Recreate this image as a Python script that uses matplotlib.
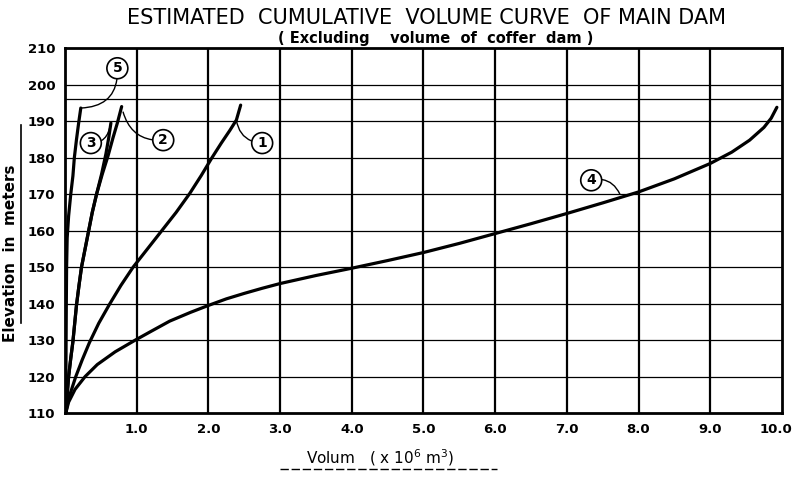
from matplotlib import pyplot as plt
from matplotlib.lines import Line2D
import numpy as np

# curve values: volume (x 10^6 m3) vs elevation (m)
vol_1 = [0.01, 0.05, 0.15, 0.24, 0.34, 0.47, 0.62, 0.78, 0.95, 1.15, 1.35, 1.55,
         1.74, 1.90, 2.05, 2.18, 2.30, 2.39, 2.45]
elev_1 = [110, 114, 120, 124.6, 129.3, 134.6, 139.8, 145, 150, 155, 160, 165,
          170.2, 175.1, 180, 184, 187.5, 190.3, 194.4]

vol_2 = [0.01, 0.03, 0.05, 0.08, 0.11, 0.135, 0.16, 0.195, 0.23, 0.28, 0.33, 0.38,
         0.44, 0.52, 0.60, 0.67, 0.73, 0.79]
elev_2 = [110, 115, 120, 125, 129.6, 134.6, 139.6, 145, 150, 155, 160, 165,
          170, 175.5, 180.5, 185.5, 189.5, 194]

vol_3 = [0.01, 0.03, 0.05, 0.08, 0.11, 0.135, 0.16, 0.195, 0.23, 0.28, 0.33, 0.38,
         0.44, 0.51, 0.57, 0.61, 0.64]
elev_3 = [110, 115, 120, 125, 129.6, 134.6, 139.6, 145, 150, 155, 160, 165,
          170, 175.5, 181, 185.5, 189.5]

vol_4 = [0.01, 0.05, 0.14, 0.28, 0.45, 0.70, 0.98, 1.20, 1.46, 1.75, 2.0, 2.25, 2.5,
         2.75, 3.0, 3.5, 4.0, 4.5, 5.0, 5.5, 6.0, 6.5, 7.0, 7.5, 8.0, 8.5, 9.0,
         9.3, 9.55, 9.75, 9.85, 9.93]
elev_4 = [110, 113, 116.5, 120, 123.3, 126.8, 130, 132.4, 135.2, 137.6, 139.5, 141.3, 142.8,
          144.2, 145.5, 147.7, 149.7, 151.8, 154.0, 156.5, 159.2, 161.9, 164.7, 167.6, 170.6,
          174.2, 178.4, 181.5, 184.8, 188.3, 190.8, 193.8]

vol_5 = [0.01, 0.012, 0.015, 0.018, 0.022, 0.03, 0.05, 0.08, 0.11, 0.13, 0.16, 0.19, 0.22]
elev_5 = [110, 120, 130, 140, 150, 158, 164, 170, 175, 180, 185, 189.5, 193.6]

x_ticks = [1, 2, 3, 4, 5, 6, 7, 8, 9, 10]
x_labels = ["1.0", "2.0", "3.0", "4.0", "5.0", "6.0", "7.0", "8.0", "9.0", "10.0"]
y_ticks = [110, 120, 130, 140, 150, 160, 170, 180, 190, 200, 210]
crest = 196

# (label, text position, point on curve, leader bend)
tags = [("5", (0.73, 204.5), (0.22, 193.6), -0.5),
        ("3", (0.36, 184.0), (0.62, 188.0), 0.4),
        ("2", (1.37, 184.8), (0.81, 192.5), -0.4),
        ("1", (2.75, 184.0), (2.39, 190.3), -0.4),
        ("4", (7.34, 173.8), (7.74, 170.0), -0.4)]

fig = plt.figure(figsize=(7.93, 4.82), dpi=100)
ax = fig.add_axes([0.082, 0.143, 0.904, 0.757])

for x in x_ticks[:-1]:
    ax.axvline(x, color="black", lw=1.6, zorder=1)
for y in y_ticks[1:-1]:
    ax.axhline(y, color="black", lw=0.9, zorder=1)
ax.axhline(crest, color="black", lw=0.9, zorder=1)

for v, e in [(vol_4, elev_4), (vol_1, elev_1), (vol_2, elev_2), (vol_3, elev_3), (vol_5, elev_5)]:
    ax.plot(v, e, color="black", lw=2.3, solid_capstyle="round", solid_joinstyle="round", zorder=3)

for name, txt, pt, rad in tags:
    ax.annotate(name, xy=pt, xytext=txt, fontsize=10, fontweight="bold",
                ha="center", va="center", zorder=4,
                bbox=dict(boxstyle="circle,pad=0.25", fc="white", ec="black", lw=1.2),
                arrowprops=dict(arrowstyle="-", color="black", lw=1.0,
                                connectionstyle="arc3,rad=%s" % rad,
                                shrinkA=0, shrinkB=0))

ax.set_xlim(0, 10)
ax.set_ylim(110, 210)
ax.set_xticks(x_ticks[:-1])
ax.set_xticklabels(x_labels[:-1])
ax.set_yticks(y_ticks)
ax.tick_params(length=0, labelsize=9.5, pad=7)
for lab in ax.get_xticklabels() + ax.get_yticklabels():
    lab.set_fontweight("bold")
# last label sits on the right frame, nudged in so it stays on the page
ax.annotate(x_labels[-1], xy=(x_ticks[-1], 110), xytext=(-4, -7), textcoords="offset points",
            ha="center", va="top", fontsize=9.5, fontweight="bold", annotation_clip=False)
for s in ax.spines.values():
    s.set_linewidth(2.0)

fig.text(0.538, 0.962, "ESTIMATED  CUMULATIVE  VOLUME CURVE  OF MAIN DAM",
         ha="center", va="center", fontsize=15)
fig.text(0.550, 0.921, "( Excluding    volume  of  coffer  dam )",
         ha="center", va="center", fontsize=10.5, fontweight="bold")

fig.text(0.013, 0.475, "Elevation  in  meters", rotation=90,
         ha="center", va="center", fontsize=11, fontweight="bold")
fig.add_artist(Line2D([0.027, 0.027], [0.33, 0.74], color="black", lw=1.2))

fig.text(0.479, 0.050, r"Volum   ( x 10$^6$ m$^3$)", ha="center", va="center", fontsize=11)
fig.add_artist(Line2D([0.353, 0.627], [0.026, 0.026], color="black", lw=1.0, ls=(0, (6, 2))))

fig.savefig("out.png", dpi=100)
